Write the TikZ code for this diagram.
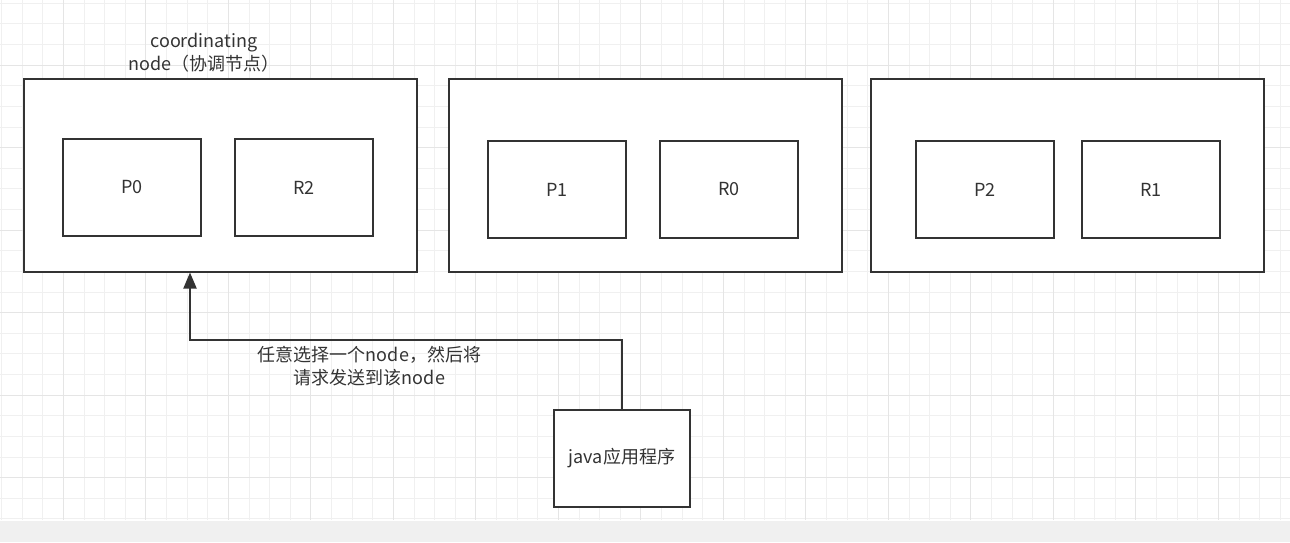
\documentclass[tikz,border=0pt]{standalone}
\usepackage{fontspec}
\setmainfont{Noto Sans CJK SC}
\usetikzlibrary{arrows.meta,positioning}
\definecolor{ln}{RGB}{51,51,51}
\definecolor{gm}{RGB}{240,240,240}
\definecolor{gM}{RGB}{229,229,229}
\definecolor{bar}{RGB}{240,240,240}
\tikzset{host/.style={draw=ln,line width=2pt,fill=white,minimum width=393pt,minimum height=193pt,inner sep=0pt},
 shard/.style={draw=ln,line width=2pt,fill=white,minimum width=138pt,minimum height=97pt,inner sep=0pt},
 lbl/.style={text=ln,align=center,inner sep=0pt},
 arr/.style={-{Triangle[length=16pt,width=13pt]},draw=ln,line width=2pt},
 every node/.style={font=\fontsize{18}{23}\selectfont}}
\begin{document}
\begin{tikzpicture}[x=1pt,y=-1pt]
\useasboundingbox (0,0) rectangle (1290,542);
% grid
\foreach \i in {0,...,62} \draw[gm,line width=1pt] (1.6+20.625*\i,0) -- (1.6+20.625*\i,520);
\foreach \j in {0,...,25} \draw[gm,line width=1pt] (0,3.3+20.625*\j) -- (1290,3.3+20.625*\j);
\foreach \i in {0,...,15} \draw[gM,line width=1pt] (63.2+82.5*\i,0) -- (63.2+82.5*\i,520);
\foreach \j in {0,...,6} \draw[gM,line width=1pt] (0,65.2+82.5*\j) -- (1290,65.2+82.5*\j);
\fill[bar] (0,521) rectangle (1290,542);
% nodes
\node[host] (n1) at (220.5,175) {};
\node[host] (n2) at (645.5,175.5) {};
\node[host] (n3) at (1067.5,175.5) {};
\node[shard] (p0) at (132,187.5) {};
\node[lbl] at (p0) {P0};
\node[shard] (r2) at (304,187.5) {};
\node[lbl] at (r2) {R2};
\node[shard] (p1) at (557,189.5) {};
\node[lbl] at (p1) {P1};
\node[shard] (r0) at (729,189.5) {};
\node[lbl] at (r0) {R0};
\node[shard] (p2) at (985,189.5) {};
\node[lbl] at (p2) {P2};
\node[shard] (r1) at (1151,189.5) {};
\node[lbl] at (r1) {R1};
\node[lbl] (cn) at (204,53) {coordinating\\node（协调节点）};
\node[shard,minimum width=136pt] (app) at (622,458.5) {};
\node[lbl] at (app) {java应用程序};
% request
\coordinate (bend) at (190,340);
\draw[arr] (app.north) |- (bend) -- (bend |- n1.south);
\node[lbl] (req) at (369.5,366.5) {任意选择一个node，然后将\\请求发送到该node};
\end{tikzpicture}
\end{document}
